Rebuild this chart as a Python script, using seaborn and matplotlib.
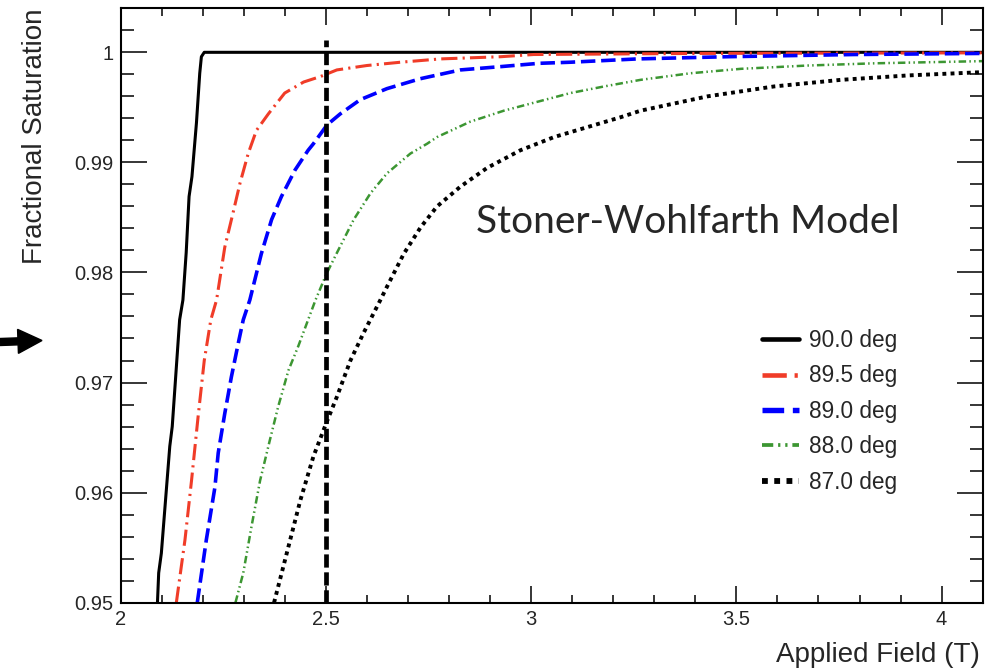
import matplotlib
matplotlib.use("Agg")
import matplotlib.pyplot as plt
import matplotlib.patches as mpatches
from matplotlib.lines import Line2D
from matplotlib.ticker import MultipleLocator, FuncFormatter
from matplotlib.transforms import IdentityTransform
import pandas as pd
import seaborn as sns

# Fractional saturation vs applied field for several field angles
x_90 = [2.090, 2.093, 2.0995, 2.120, 2.126, 2.144, 2.152, 2.160, 2.167, 2.174,
        2.185, 2.193, 2.197, 2.204, 4.1]
y_90 = [0.950, 0.9527, 0.9545, 0.9642, 0.9660, 0.9757, 0.9775, 0.9818, 0.9869,
        0.9887, 0.9936, 0.9981, 0.9996, 1.0, 1.0]

x_895 = [2.136, 2.157, 2.173, 2.189, 2.204, 2.220, 2.234, 2.254, 2.274, 2.291,
         2.311, 2.331, 2.360, 2.400, 2.446, 2.487, 2.527, 2.600, 2.682, 2.779,
         2.926, 3.006, 3.410, 4.1]
y_895 = [0.950, 0.9557, 0.9611, 0.9669, 0.9720, 0.9757, 0.9775, 0.9823, 0.9854,
         0.9881, 0.9908, 0.9929, 0.9944, 0.9963, 0.9973, 0.9978, 0.9984, 0.9988,
         0.9991, 0.9994, 0.9996, 0.9998, 0.9999, 0.99995]

x_89 = [2.187, 2.209, 2.230, 2.238, 2.254, 2.270, 2.287, 2.299, 2.315, 2.323,
        2.343, 2.368, 2.392, 2.425, 2.457, 2.470, 2.503, 2.535, 2.584, 2.649,
        2.730, 2.828, 2.926, 3.019, 3.096, 3.259, 3.478, 3.787, 4.1]
y_89 = [0.950, 0.9557, 0.9605, 0.9636, 0.9672, 0.9705, 0.9736, 0.9757, 0.9775,
        0.9787, 0.9817, 0.9848, 0.9869, 0.9893, 0.9911, 0.9917, 0.9934, 0.9944,
        0.9957, 0.9967, 0.9976, 0.9984, 0.9987, 0.9990, 0.9991, 0.9994, 0.9996,
        0.9998, 0.9999]

x_88 = [2.280, 2.299, 2.319, 2.340, 2.364, 2.384, 2.409, 2.433, 2.457, 2.475,
        2.502, 2.526, 2.568, 2.609, 2.649, 2.706, 2.747, 2.771, 2.852, 2.885,
        2.934, 3.015, 3.096, 3.178, 3.267, 3.389, 3.511, 3.674, 3.836, 4.1]
y_88 = [0.950, 0.9527, 0.9569, 0.9611, 0.9648, 0.9678, 0.9711, 0.9733, 0.9757,
        0.9775, 0.9799, 0.9817, 0.9848, 0.9872, 0.9890, 0.9908, 0.9917, 0.9923,
        0.9937, 0.9941, 0.9947, 0.9955, 0.9963, 0.9969, 0.9975, 0.9981, 0.9985,
        0.9988, 0.9990, 0.9992]

x_87 = [2.374, 2.405, 2.438, 2.470, 2.501, 2.527, 2.560, 2.592, 2.633, 2.649,
        2.690, 2.731, 2.771, 2.828, 2.893, 2.974, 3.056, 3.137, 3.218, 3.267,
        3.430, 3.592, 3.755, 3.918, 4.1]
y_87 = [0.950, 0.9545, 0.9593, 0.9633, 0.9663, 0.9687, 0.9720, 0.9745, 0.9775,
        0.9787, 0.9817, 0.9841, 0.9860, 0.9878, 0.9895, 0.9911, 0.9923, 0.9932,
        0.9941, 0.9947, 0.9960, 0.9969, 0.9975, 0.9979, 0.9982]

labels = ["90.0 deg", "89.5 deg", "89.0 deg", "88.0 deg", "87.0 deg"]

# reference field marker
marker_x = [2.5, 2.5]
marker_y = [0.95, 1.0011]

sns.set_theme(style="ticks")
plt.rcParams["font.family"] = ["Liberation Sans", "DejaVu Sans"]

fig = plt.figure(figsize=(9.91, 6.68), dpi=100)
ax = fig.add_axes([0.1216, 0.0978, 0.87, 0.8898])

styles = [
    dict(color="black", lw=2.2, ls="-"),
    dict(color="#f03c28", lw=2.2, ls=(0, (5.3, 1.7, 0.7, 1.7))),
    dict(color="#0000ff", lw=2.6, ls=(0, (4.0, 1.6))),
    dict(color="#3c9632", lw=1.8, ls=(0, (3.0, 1.3, 0.6, 1.3, 0.6, 1.3))),
    dict(color="black", lw=2.8, ls=(0, (1.0, 1.1))),
]
series = [(x_90, y_90), (x_895, y_895), (x_89, y_89), (x_88, y_88), (x_87, y_87)]

for (xs, ys), st in zip(series, styles):
    df = pd.DataFrame({"field": xs, "sat": ys})
    sns.lineplot(data=df, x="field", y="sat", ax=ax, sort=False, estimator=None,
                 color=st["color"], linewidth=st["lw"], linestyle=st["ls"])

mdf = pd.DataFrame({"field": marker_x, "sat": marker_y})
sns.lineplot(data=mdf, x="field", y="sat", ax=ax, sort=False, estimator=None,
             color="black", linewidth=3.4, linestyle=(0, (2.8, 1.0)))

ax.set_xlim(2.0, 4.1)
ax.set_ylim(0.95, 1.004)
ax.xaxis.set_major_locator(MultipleLocator(0.5))
ax.xaxis.set_minor_locator(MultipleLocator(0.1))
ax.yaxis.set_major_locator(MultipleLocator(0.01))
ax.yaxis.set_minor_locator(MultipleLocator(0.002))
fmt = FuncFormatter(lambda v, p: "%g" % round(v, 4))
ax.xaxis.set_major_formatter(fmt)
ax.yaxis.set_major_formatter(fmt)

ax.tick_params(which="both", direction="in", top=True, right=True,
               width=1.1, color="black", labelsize=14.5)
ax.tick_params(axis="y", which="major", length=18.5, pad=5)
ax.tick_params(axis="y", which="minor", length=9.1)
ax.tick_params(axis="x", which="major", length=12.2, pad=5)
ax.tick_params(axis="x", which="minor", length=6.0)
for sp in ax.spines.values():
    sp.set_linewidth(1.5)
    sp.set_color("black")

ax.set_xlabel("Applied Field (T)", loc="right", fontsize=20)
ax.set_ylabel("Fractional Saturation", loc="top", fontsize=20)
ax.xaxis.set_label_coords(0.997, -0.066)
ax.yaxis.set_label_coords(-0.084, 1.0)

ax.text(3.382, 0.98458, "Stoner-Wohlfarth Model", family=["Lato", "DejaVu Sans"],
        fontsize=28, ha="center", va="center")

handles = []
for st in styles:
    handles.append(Line2D([], [], color=st["color"], lw=st["lw"] * 1.5, ls=st["ls"]))
ax.legend(handles, labels, loc="upper left", bbox_to_anchor=(762 / 991, 1 - 329 / 668),
          bbox_transform=fig.transFigure, frameon=False, fontsize=16.3,
          handlelength=1.64, handletextpad=0.44, labelspacing=0.55,
          borderpad=0, borderaxespad=0)

# arrow at the left margin
arrow = mpatches.FancyArrow(0, 668 - 342, 42, 1.5, width=7, head_width=24,
                            head_length=24, length_includes_head=True,
                            color="black", transform=IdentityTransform())
fig.patches.append(arrow)

fig.savefig("out.png", dpi=100)
